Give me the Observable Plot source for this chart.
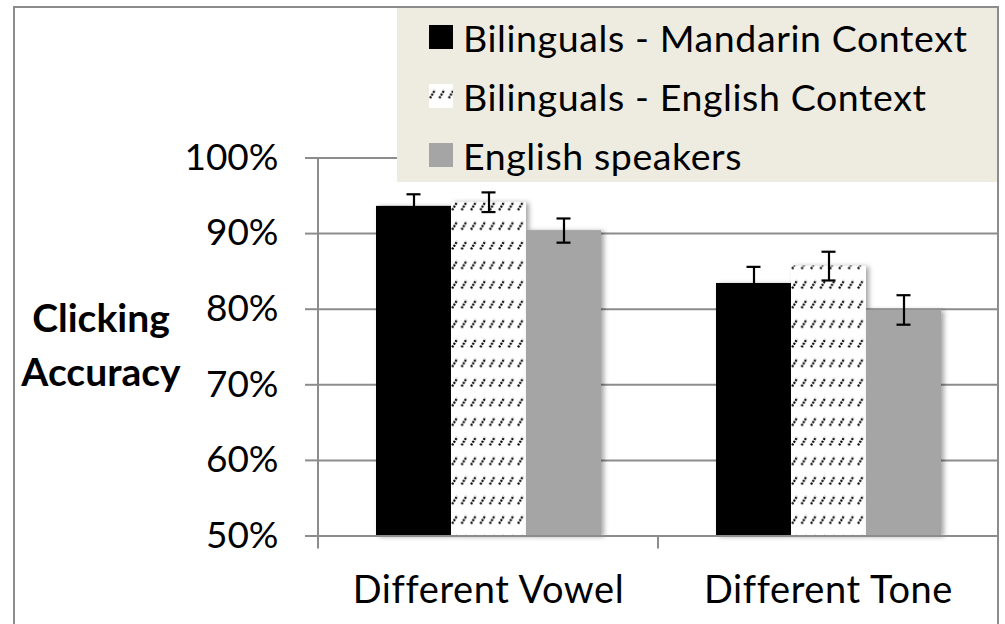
<!DOCTYPE html>
<html><head><meta charset="utf-8">
<script src="https://cdn.jsdelivr.net/npm/d3@7"></script>
<script src="https://cdn.jsdelivr.net/npm/@observablehq/plot@0.6"></script>
<style>
html,body{margin:0;padding:0;background:#fff;overflow:hidden;}
body{width:1005px;height:624px;position:relative;font-family:Lato, sans-serif;}
#frame{position:absolute;left:13px;top:6px;width:982px;height:700px;border:2px solid #8c8c8c;pointer-events:none;}
#chart{position:absolute;left:0;top:0;}
#legend{position:absolute;left:397px;top:8px;width:600px;height:174px;background:#EEECE1;}
.item{position:absolute;left:32px;height:24px;display:flex;align-items:center;font-size:37.5px;letter-spacing:0.6px;color:#000;white-space:nowrap;}
.sw{width:24px;height:24px;margin-right:10px;flex:none;display:block;}
#ylabel{position:absolute;left:0;width:202px;top:290px;text-align:center;font-weight:bold;font-size:39px;line-height:54px;color:#000;}
</style></head><body>
<div id="chart"></div>
<div id="ylabel">Clicking<br>Accuracy</div>
<div id="legend"></div>
<div id="frame"></div>
<script>
const categories = ["Different Vowel", "Different Tone"];
const series = ["Bilinguals - Mandarin Context", "Bilinguals - English Context", "English speakers"];
const mandarinValues = [0.936, 0.834];
const englishContextValues = [0.9415, 0.857];
const englishSpeakerValues = [0.904, 0.799];
const mandarinErrors = [0.016, 0.022];
const englishContextErrors = [0.013, 0.019];
const englishSpeakerErrors = [0.016, 0.0195];
const yTicks = [0.5, 0.6, 0.7, 0.8, 0.9, 1.0];
const fills = ["#000000", "url(#hatch)", "#a5a5a5"];

const valueSets = [mandarinValues, englishContextValues, englishSpeakerValues];
const errorSets = [mandarinErrors, englishContextErrors, englishSpeakerErrors];
const data = [];
categories.forEach((c, i) => series.forEach((s, j) => data.push({category: c, series: s, value: valueSets[j][i], error: errorSets[j][i]})));
const yBase = yTicks[0];
const gray = "#8c8c8c";

const chart = Plot.plot({
  width: 1005, height: 624,
  marginLeft: 318, marginRight: 7, marginTop: 157.5, marginBottom: 88.5,
  style: {fontFamily: "Lato, sans-serif", fontSize: "36px", color: "#000", background: "transparent", overflow: "visible"},
  fx: {domain: categories, padding: 0, label: null},
  x: {domain: series, paddingInner: 0, paddingOuter: 0.75, axis: null},
  y: {domain: [yBase, yTicks[yTicks.length - 1]], axis: null},
  color: {domain: series, range: fills},
  marks: [
    Plot.gridY(yTicks, {stroke: gray, strokeOpacity: 1, strokeWidth: 2}),
    Plot.axisY(yTicks, {tickFormat: d3.format(".0%"), tickSize: 13, tickPadding: 27, stroke: gray, strokeWidth: 2, fill: "#000", fontSize: 37, label: null}),
    Plot.axisFx({anchor: "bottom", tickSize: 0, tickPadding: 40, label: null, fontSize: 38, fill: "#000"}),
    Plot.barY(data, {fx: "category", x: "series", y1: () => yBase, y2: "value", fill: "series"}),
    Plot.ruleY([yBase], {stroke: gray, strokeWidth: 2}),
    Plot.ruleX(data, {fx: "category", x: "series", y1: d => d.value - d.error, y2: d => d.value + d.error, stroke: "#000", strokeWidth: 2.2}),
    Plot.tickY(data, {fx: "category", x: "series", y: d => d.value + d.error, stroke: "#000", strokeWidth: 2.2, insetLeft: 30.5, insetRight: 30.5}),
    Plot.tickY(data, {fx: "category", x: "series", y: d => d.value - d.error, stroke: "#000", strokeWidth: 2.2, insetLeft: 30.5, insetRight: 30.5})
  ]
});
document.getElementById("chart").appendChild(chart);

const svg = d3.select(chart);
svg.selectAll('g[aria-label="fx-axis tick label"] text').style("letter-spacing", "0.6px");
const defs = svg.insert("defs", ":first-child");
function addHatch(d, id) {
  const p = d.append("pattern").attr("id", id).attr("patternUnits", "userSpaceOnUse")
    .attr("width", 9.4).attr("height", 19.6);
  p.append("rect").attr("width", 9.4).attr("height", 19.6).attr("fill", "#fff");
  p.append("path").attr("d", "M1,14 L6,6").attr("stroke", "#000").attr("stroke-width", 2.2)
    .attr("stroke-dasharray", "2 1.1").attr("fill", "none");
}
addHatch(defs, "hatch");

svg.selectAll('g[aria-label="bar"] rect').style("filter", "drop-shadow(3px 1px 2.5px rgba(0,0,0,0.35))");

// y axis line and category boundary ticks, drawn from Plot's scales
const fx = chart.scale("fx"), y = chart.scale("y");
const edges = categories.map(c => fx.apply(c)).concat([fx.apply(categories[categories.length - 1]) + fx.bandwidth]);
const g = svg.append("g").attr("stroke", gray).attr("stroke-width", 2);
g.append("line").attr("x1", edges[0]).attr("x2", edges[0]).attr("y1", y.apply(yTicks[yTicks.length - 1])).attr("y2", y.apply(yBase) + 13);
edges.slice(1).forEach(e => g.append("line").attr("x1", e).attr("x2", e).attr("y1", y.apply(yBase)).attr("y2", y.apply(yBase) + 13));

// legend
const legend = d3.select("#legend");
series.forEach((s, i) => {
  const item = legend.append("div").attr("class", "item").style("top", (17 + 59 * i) + "px");
  const sw = item.append("svg").attr("class", "sw").attr("width", 24).attr("height", 24);
  if (i === 1) { addHatch(sw.append("defs"), "hatchL"); sw.append("rect").attr("width", 24).attr("height", 24).attr("fill", "url(#hatchL)"); }
  else sw.append("rect").attr("width", 24).attr("height", 24).attr("fill", fills[i]);
  item.append("span").text(s);
});
</script>
</body></html>
